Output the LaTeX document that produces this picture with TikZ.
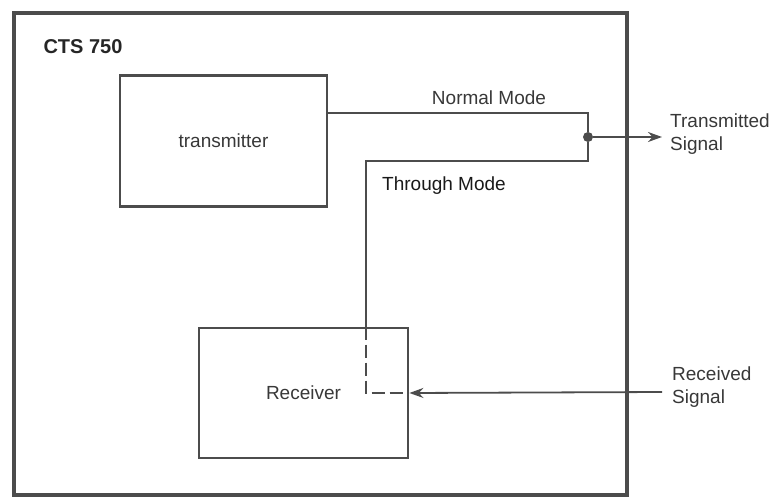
\documentclass[tikz,border=0pt]{standalone}
\usepackage{fontspec}
\setmainfont{Liberation Sans}
\usetikzlibrary{arrows.meta}

\definecolor{ink}{gray}{0.30}
\definecolor{txt}{gray}{0.22}

\tikzset{
  frame/.style={draw=ink, line width=4.5pt},
  unit/.style={draw=ink, line width=2.8pt, minimum width=207pt, minimum height=131pt,
    inner sep=0pt, text=txt, font=\fontsize{19}{22}\selectfont},
  wire/.style={draw=ink, line width=1.8pt},
  lbl/.style={text=txt, font=\fontsize{19}{23}\selectfont, inner sep=0pt},
  junct/.style={circle, fill=ink, inner sep=0pt, minimum size=10pt},
  sig/.style={-{Stealth[length=14pt, width=10pt]}}
}

\begin{document}
\begin{tikzpicture}[x=1pt, y=-1pt]

  \useasboundingbox (0,0) rectangle (777,503);

  % Outer unit
  \draw[frame] (14,13) rectangle (627,495);
  \node[lbl, font=\fontsize{20}{24}\selectfont\bfseries, text=black!85] (cts) at (83,47) {CTS 750};

  % Blocks
  \node[unit] (tx) at (223.5,141) {transmitter};
  \node[unit, minimum width=209pt, minimum height=130pt] (rx) at (303.5,393) {Receiver};

  % Junction and bends
  \coordinate (nm)  at (588,113);
  \coordinate (th)  at (588,161);
  \coordinate (thc) at (366,161);
  \node[junct] (jn) at (588,137) {};
  \coordinate (txout) at (662,137);
  \coordinate (rxin)  at (662,392);

  % Normal mode path
  \draw[wire] (tx.east |- nm) -- (nm) -- (jn);
  \node[lbl] (nmlbl) at (489,98) {Normal Mode};

  % Through mode path
  \draw[wire] (jn) -- (th) -- (thc) -- (thc |- rx.north);
  \draw[wire, dash pattern=on 13pt off 5pt] (thc |- rx.north) -- (thc |- rx.east) -- (rx.east);
  \node[lbl, text=black!90] (thlbl) at (444,186) {Through Mode};

  % Signals
  \draw[wire, sig] (jn) -- (txout);
  \draw[wire, sig] (rxin) -- (rx.east);
  \node[lbl, anchor=west, align=left] (txlbl) at (670,134) {Transmitted\\Signal};
  \node[lbl, anchor=west, align=left] (rxlbl) at (672,387) {Received\\Signal};

\end{tikzpicture}
\end{document}
